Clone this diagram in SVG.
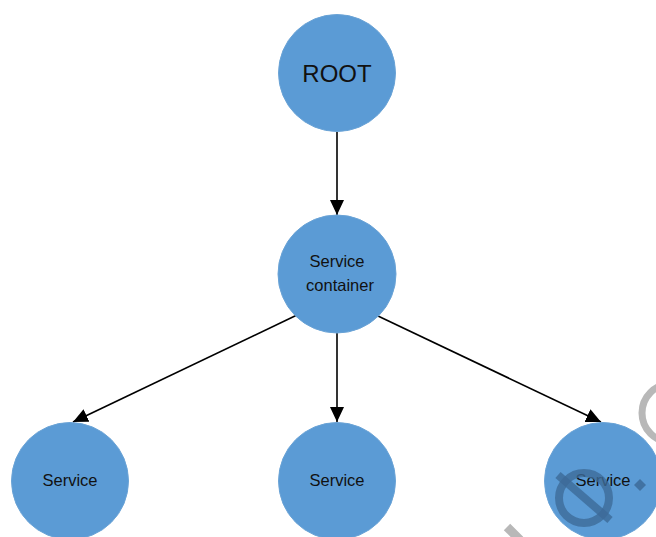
<svg xmlns="http://www.w3.org/2000/svg" width="656" height="537" viewBox="0 0 656 537">
<style>
.node{fill:#5b9bd5;stroke:#6aa3d6;stroke-width:1}
.lbl{font-family:"Liberation Sans",Arial,sans-serif;fill:#111;text-anchor:middle}
.edge{stroke:#000;stroke-width:1.6;fill:none}
</style>
<defs>
<marker id="ah" markerUnits="userSpaceOnUse" markerWidth="16" markerHeight="14" refX="15" refY="7" orient="auto">
<path d="M0,0 L15,7 L0,14 z" fill="#000"/>
</marker>
</defs>
<rect width="656" height="537" fill="#fff"/>
<g id="connectors">
<line class="edge" x1="337" y1="132" x2="337" y2="215" marker-end="url(#ah)"/>
<line class="edge" x1="297" y1="315" x2="73" y2="422" marker-end="url(#ah)"/>
<line class="edge" x1="337" y1="333" x2="337" y2="422" marker-end="url(#ah)"/>
<line class="edge" x1="378" y1="316" x2="601" y2="422" marker-end="url(#ah)"/>
</g>
<g id="root">
<circle class="node" cx="337" cy="73" r="58.5"/>
<text class="lbl" x="337" y="82" font-size="24">ROOT</text>
</g>
<g id="service-container">
<circle class="node" cx="337" cy="274" r="59"/>
<text class="lbl" x="337" y="267" font-size="16.5">Service</text>
<text class="lbl" x="340" y="291" font-size="16.5">container</text>
</g>
<g id="service-left">
<circle class="node" cx="70" cy="481" r="58.5"/>
<text class="lbl" x="70" y="486" font-size="16.5">Service</text>
</g>
<g id="service-middle">
<circle class="node" cx="337" cy="481" r="58.5"/>
<text class="lbl" x="337" y="486" font-size="16.5">Service</text>
</g>
<g id="service-right">
<circle class="node" cx="603" cy="481" r="58.5"/>
<text class="lbl" x="603" y="486" font-size="16.5">Service</text>
</g>
<g id="watermark">
<circle cx="671" cy="413" r="29" fill="none" stroke="#b8b8b8" stroke-width="7"/>
<line x1="507" y1="527" x2="520" y2="540" stroke="#b8b8b8" stroke-width="9"/>
<circle cx="584" cy="498" r="25" fill="none" stroke="#3d6b99" stroke-width="8" opacity="0.8"/>
<line x1="558" y1="475" x2="610" y2="520" stroke="#3d6b99" stroke-width="8" opacity="0.8"/>
<path d="M640,479 L646,485 L640,491 L634,485 z" fill="#3d6b99" opacity="0.85"/>
</g>
</svg>
